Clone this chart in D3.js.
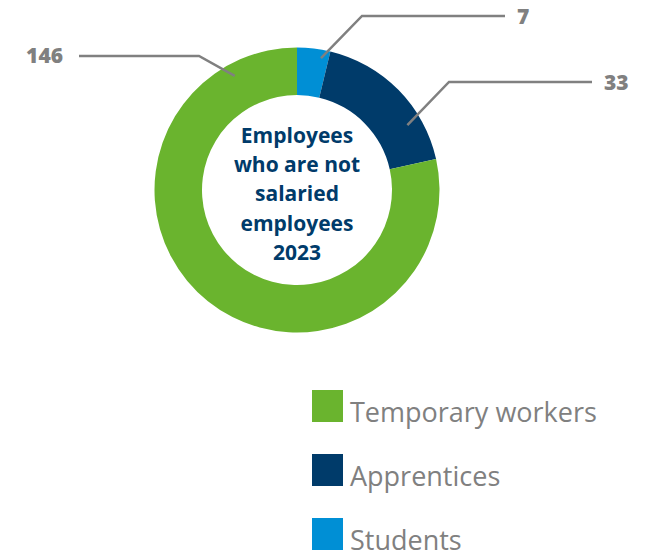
<!DOCTYPE html>
<html>
<head>
<meta charset="utf-8">
<script src="https://cdn.jsdelivr.net/npm/d3@7"></script>
<style>
  html, body { margin: 0; padding: 0; background: #fff; }
  svg { display: block; }
</style>
</head>
<body>
<svg id="chart" width="654" height="555"></svg>
<script>
// Employees who are not salaried employees, 2023
const categories = ["Students", "Apprentices", "Temporary workers"];
const values = [7, 33, 146];
const colors = ["#008fd5", "#003b6a", "#6ab42e"];
const legendOrder = ["Temporary workers", "Apprentices", "Students"];
const titleLines = ["Employees", "who are not", "salaried", "employees", "2023"];

const svg = d3.select("#chart");
const cx = 297, cy = 190, outerR = 142.5, innerR = 95;

const color = d3.scaleOrdinal().domain(categories).range(colors);

const pie = d3.pie().sort(null).value(d => d.value);
const data = categories.map((c, i) => ({ name: c, value: values[i] }));
const arcs = pie(data);
const arc = d3.arc().innerRadius(innerR).outerRadius(outerR);

const g = svg.append("g").attr("transform", `translate(${cx},${cy})`);
g.selectAll("path.slice")
  .data(arcs)
  .join("path")
  .attr("class", "slice")
  .attr("d", arc)
  .attr("fill", d => color(d.data.name));

// Leader lines: start on the ring, bend at an elbow, then run horizontally to the value
const leaders = {
  "Students":          { angle: 0.18,  r: 134, elbow: [362, 16], end: [505, 16], label: [517, 24], anchor: "start" },
  "Apprentices":       { angle: 1.04,  r: 128, elbow: [449, 82], end: [592, 82], label: [604, 90], anchor: "start" },
  "Temporary workers": { angle: -0.50, r: 130, elbow: [199, 56], end: [79, 56],  label: [63, 63], anchor: "end" }
};

arcs.forEach(a => {
  const L = leaders[a.data.name];
  const p0 = [cx + L.r * Math.sin(L.angle), cy - L.r * Math.cos(L.angle)];
  svg.append("polyline")
    .attr("points", [p0, L.elbow, L.end].map(p => p.join(",")).join(" "))
    .attr("fill", "none")
    .attr("stroke", "#808080")
    .attr("stroke-width", 2.5);
  svg.append("text")
    .attr("x", L.label[0])
    .attr("y", L.label[1])
    .attr("text-anchor", L.anchor)
    .attr("font-family", "'Open Sans', sans-serif")
    .attr("font-weight", 800)
    .attr("font-size", 21)
    .attr("fill", "#808080")
    .text(a.data.value);
});

// Centre title
const title = svg.append("text")
  .attr("text-anchor", "middle")
  .attr("font-family", "'Open Sans', sans-serif")
  .attr("font-weight", 700)
  .attr("font-size", 21)
  .attr("fill", "#003b6a");
titleLines.forEach((t, i) => {
  title.append("tspan").attr("x", cx).attr("y", 143 + i * 29.2).text(t);
});

// Legend
const legend = svg.append("g").attr("transform", "translate(312,390)");
const items = legend.selectAll("g")
  .data(legendOrder)
  .join("g")
  .attr("transform", (d, i) => `translate(0,${i * 64})`);
items.append("rect")
  .attr("width", 31).attr("height", 32)
  .attr("fill", d => color(d));
items.append("text")
  .attr("x", 38).attr("y", 32)
  .attr("font-family", "'Open Sans', sans-serif")
  .attr("font-size", 27)
  .attr("fill", "#808080")
  .text(d => d);
</script>
</body>
</html>
